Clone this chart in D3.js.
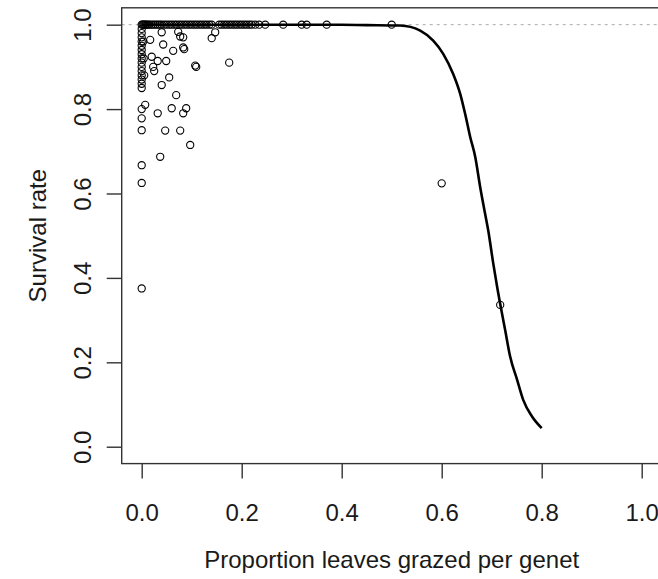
<!DOCTYPE html>
<html>
<head>
<meta charset="utf-8">
<script src="https://cdn.jsdelivr.net/npm/d3@7"></script>
<style>
	body { margin: 0; background: white; }
	text { font-family: "Liberation Sans", Arial, sans-serif; fill: #1a1a1a; }
</style>
</head>
<body>
<div id="chart"></div>
<script>
// scatter: proportion of leaves grazed per genet vs survival rate
const grazed = [
	// points sitting on 1.0
	0, 0.002, 0.004, 0.006, 0.008, 0.01, 0.013, 0.016, 0.02, 0.024, 0.028, 0.032,
	0.036, 0.04, 0.045, 0.05, 0.055, 0.06, 0.065, 0.07, 0.075, 0.08, 0.085, 0.09,
	0.095, 0.1, 0.105, 0.11, 0.115, 0.12, 0.125, 0.13, 0.135, 0.14, 0.155, 0.16,
	0.165, 0.17, 0.175, 0.18, 0.185, 0.19, 0.195, 0.2, 0.205, 0.21, 0.215, 0.22,
	0.227, 0.235, 0.247, 0.283, 0.32, 0.33, 0.37, 0.5,
	// column at zero
	0, 0, 0, 0, 0, 0, 0, 0, 0, 0, 0, 0, 0, 0, 0, 0, 0, 0, 0, 0, 0,
	0.003, 0.004, 0.005,
	// scattered below 1
	0.017, 0.04, 0.073, 0.077, 0.043, 0.063, 0.085, 0.02, 0.032, 0.049, 0.023,
	0.025, 0.109, 0.175, 0.14, 0.147, 0.055, 0.04, 0.069, 0.007, 0.032, 0.06,
	0.089, 0.083, 0.047, 0.077, 0.097, 0.037, 0.083, 0.083, 0.107,
	0.6, 0.717
];
const survival = [
	1, 1, 1, 1, 1, 1, 1, 1, 1, 1, 1, 1,
	1, 1, 1, 1, 1, 1, 1, 1, 1, 1, 1, 1,
	1, 1, 1, 1, 1, 1, 1, 1, 1, 1, 1, 1,
	1, 1, 1, 1, 1, 1, 1, 1, 1, 1, 1, 1,
	1, 1, 1, 1, 1, 1, 1, 1,
	0.99, 0.98, 0.97, 0.96, 0.95, 0.94, 0.93, 0.92, 0.91, 0.9, 0.89, 0.88, 0.87,
	0.86, 0.85, 0.8, 0.778, 0.75, 0.667, 0.625, 0.375,
	0.96, 0.92, 0.88,
	0.964, 0.982, 0.983, 0.972, 0.953, 0.938, 0.942, 0.924, 0.914, 0.914, 0.9,
	0.89, 0.9, 0.91, 0.968, 0.982, 0.875, 0.857, 0.833, 0.81, 0.79, 0.802,
	0.802, 0.79, 0.749, 0.749, 0.715, 0.687, 0.97, 0.946, 0.903,
	0.624, 0.336
];

// fitted curve
const fitX = [0, 0.1, 0.2, 0.3, 0.4, 0.45, 0.517, 0.557, 0.583, 0.603, 0.623, 0.637,
	0.647, 0.657, 0.667, 0.677, 0.687, 0.693, 0.703, 0.711, 0.727, 0.737, 0.751,
	0.763, 0.781, 0.8];
const fitY = [1, 1, 1, 1, 0.9997, 0.999, 0.998, 0.986, 0.962, 0.931, 0.883, 0.836,
	0.788, 0.734, 0.687, 0.615, 0.551, 0.513, 0.435, 0.378, 0.276, 0.213, 0.158,
	0.111, 0.071, 0.044];

const xTicks = [0, 0.2, 0.4, 0.6, 0.8, 1.0];
const yTicks = [0, 0.2, 0.4, 0.6, 0.8, 1.0];

const width = 658;
const height = 579;
const plot = { left: 121.7, right: 661.7, top: 7.8, bottom: 463.6 };
const fontSize = 24;

const svg = d3
	.select('#chart')
	.append('svg')
	.attr('width', width)
	.attr('height', height)
	.style('display', 'block');

const x = d3.scaleLinear().domain([-0.04, 1.04]).range([plot.left, plot.right]);
const y = d3.scaleLinear().domain([-0.04, 1.04]).range([plot.bottom, plot.top]);

// reference line at 1
svg.append('line')
	.attr('x1', plot.left)
	.attr('x2', plot.right)
	.attr('y1', y(1))
	.attr('y2', y(1))
	.attr('stroke', '#aaaaaa')
	.attr('stroke-width', 1)
	.attr('stroke-dasharray', '3,4');

// points
svg.append('g')
	.selectAll('circle')
	.data(grazed.map((g, i) => [g, survival[i]]))
	.enter()
	.append('circle')
	.attr('cx', (d) => x(d[0]))
	.attr('cy', (d) => y(d[1]))
	.attr('r', 3.6)
	.attr('fill', 'none')
	.attr('stroke', '#000')
	.attr('stroke-width', 1.1);

// fitted line
const line = d3
	.line()
	.x((d) => x(d[0]))
	.y((d) => y(d[1]))
	.curve(d3.curveMonotoneX);

svg.append('path')
	.datum(fitX.map((v, i) => [v, fitY[i]]))
	.attr('d', line)
	.attr('fill', 'none')
	.attr('stroke', '#000')
	.attr('stroke-width', 2.6);

// box
svg.append('rect')
	.attr('x', plot.left)
	.attr('y', plot.top)
	.attr('width', plot.right - plot.left)
	.attr('height', plot.bottom - plot.top)
	.attr('fill', 'none')
	.attr('stroke', '#333')
	.attr('stroke-width', 1.4);

// axes
const xAxis = svg
	.append('g')
	.attr('transform', `translate(0,${plot.bottom})`)
	.call(
		d3.axisBottom(x).tickValues(xTicks).tickSize(15).tickPadding(25)
			.tickFormat(d3.format('.1f'))
	);
const yAxis = svg
	.append('g')
	.attr('transform', `translate(${plot.left},0)`)
	.call(
		d3.axisLeft(y).tickValues(yTicks).tickSize(15).tickPadding(0)
			.tickFormat(d3.format('.1f'))
	);

[xAxis, yAxis].forEach((a) => {
	a.select('.domain').remove();
	a.selectAll('.tick line').attr('stroke', '#333').attr('stroke-width', 1.4);
	a.selectAll('.tick text')
		.attr('font-size', fontSize)
		.style('font-family', '"Liberation Sans", Arial, sans-serif')
		.attr('fill', '#1a1a1a');
});

// rotated y tick labels
yAxis.selectAll('.tick text')
	.attr('x', null)
	.attr('dy', null)
	.attr('text-anchor', 'middle')
	.attr('transform', 'translate(-39,0) rotate(-90)')
	.attr('y', 8);

svg.append('text')
	.attr('x', x(0.5))
	.attr('y', 568)
	.attr('text-anchor', 'middle')
	.attr('font-size', fontSize)
	.text('Proportion leaves grazed per genet');

svg.append('text')
	.attr('transform', `translate(46,${y(0.5)}) rotate(-90)`)
	.attr('text-anchor', 'middle')
	.attr('font-size', fontSize)
	.text('Survival rate');
</script>
</body>
</html>
